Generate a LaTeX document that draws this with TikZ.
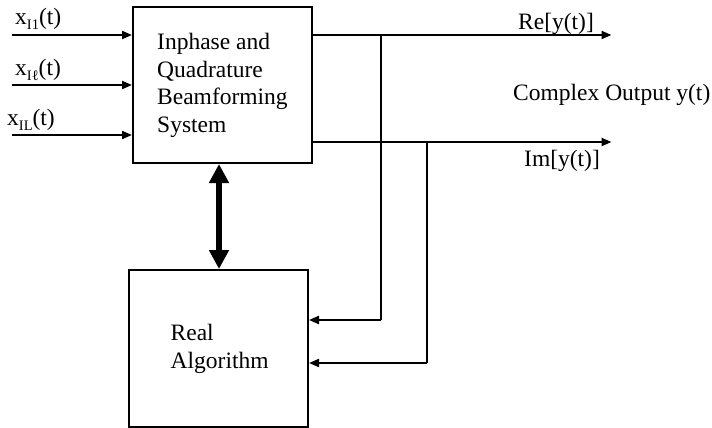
\documentclass[tikz,border=0pt]{standalone}
\usepackage{fontspec}
\setmainfont{Liberation Serif}
\usetikzlibrary{arrows.meta}
\begin{document}
\begin{tikzpicture}[x=1pt,y=-1pt,
  every node/.style={font=\fontsize{23.5}{28}\selectfont, inner sep=0pt},
  blk/.style={draw, line width=2pt},
  sig/.style={line width=2pt, -{Triangle[length=10pt,width=8pt]}},
  wire/.style={line width=2pt},
  big/.style={line width=6pt, {Triangle[length=19pt,width=19pt]}-{Triangle[length=19pt,width=19pt]}},
  lbl/.style={anchor=base west}]
\useasboundingbox (0,0) rectangle (712,428);
% blocks
\node[blk, minimum width=179pt, minimum height=156pt] (bf) at (222.5,85) {};
\node[blk, minimum width=179pt, minimum height=157pt] (alg) at (218.5,348.5) {};
% block texts
\node[lbl] (t1) at (157,49.5) {Inphase and};
\node[lbl] (t2) at (157,77.2) {Quadrature};
\node[lbl] (t3) at (157,104.9) {Beamforming};
\node[lbl] (t4) at (157,132.6) {System};
\node[lbl] (t5) at (170.5,340) {Real};
\node[lbl] (t6) at (170.5,368) {Algorithm};
% inputs
\coordinate (in1) at (12,35);
\coordinate (in2) at (12,85);
\coordinate (in3) at (12,135);
\draw[sig] (in1) -- (in1 -| bf.west);
\draw[sig] (in2) -- (in2 -| bf.west);
\draw[sig] (in3) -- (in3 -| bf.west);
\node[lbl] (x1) at (15,25) {x\raisebox{-5pt}{\fontsize{14.5}{14.5}\selectfont I1}(t)};
\node[lbl] (x2) at (15,76) {x\raisebox{-5pt}{\fontsize{14.5}{14.5}\selectfont Iℓ}(t)};
\node[lbl] (x3) at (7,125) {x\raisebox{-5pt}{\fontsize{14.5}{14.5}\selectfont IL}(t)};
% outputs
\coordinate (re) at (611.5,35);
\coordinate (im) at (611.5,142);
\draw[sig] (re -| bf.east) -- (re);
\draw[sig] (im -| bf.east) -- (im);
\node[lbl] (lre) at (518,29.5) {Re[y(t)]};
\node[lbl] (lco) at (513,100) {Complex Output y(t)};
\node[lbl] (lim) at (524,166.5) {Im[y(t)]};
% feedback
\coordinate (j1) at (381,35);
\coordinate (f1) at (381,320);
\coordinate (j2) at (427,142);
\coordinate (f2) at (427,363);
\draw[wire] (j1) -- (f1);
\draw[sig] (f1) -- (f1 -| alg.east);
\draw[wire] (j2) -- (f2);
\draw[sig] (f2) -- (f2 -| alg.east);
% bidirectional link
\coordinate (dx) at (219,0);
\draw[big] (bf.south -| dx) -- (alg.north -| dx);
\end{tikzpicture}
\end{document}
